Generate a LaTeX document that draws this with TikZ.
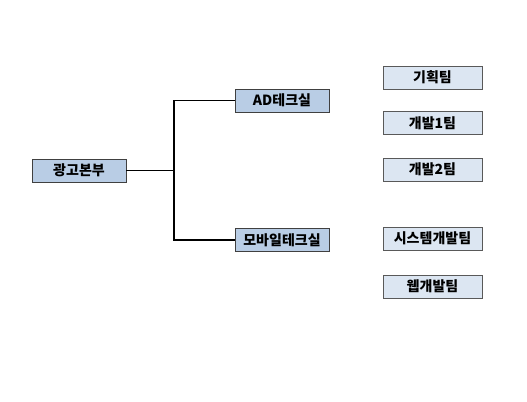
\documentclass[tikz,border=0pt]{standalone}
\usepackage{fontspec}
\setmainfont{Noto Sans CJK KR}
\usetikzlibrary{positioning}
\definecolor{deptblue}{HTML}{B9CDE5}
\definecolor{teamblue}{HTML}{DCE6F2}
\tikzstyle{dept} = [rectangle, draw=black!75, fill=deptblue, minimum width=70.5pt, minimum height=17.5pt, inner sep=0pt, font=\bfseries\fontsize{10.5}{12}\selectfont]
\tikzstyle{team} = [rectangle, draw=black!65, fill=teamblue, minimum width=74pt, minimum height=17pt, inner sep=0pt, font=\bfseries\fontsize{10.5}{12}\selectfont]

\begin{document}
\begin{tikzpicture}[x=0.75pt, y=-0.75pt]
\useasboundingbox (0,0) rectangle (527,402);
\node [dept] (HQ) at (79, 170.5) {광고본부};
\node [dept] (AD) at (282, 100.5) {AD테크실};
\node [dept] (MOB) at (282, 240) {모바일테크실};
\node [team] (PLAN) at (432.5, 77.5) {기획팀};
\node [team] (DEV1) at (432.5, 123) {개발1팀};
\node [team] (DEV2) at (432.5, 169.5) {개발2팀};
\node [team] (SYS) at (432.5, 238.5) {시스템개발팀};
\node [team] (WEB) at (432.5, 286.5) {웹개발팀};
\coordinate (branch) at (174, 170.5);
\draw [line width=1.1pt] (HQ.east) -- (branch);
\draw [line width=1.1pt] (AD.west) -| (branch) |- (MOB.west);
\end{tikzpicture}
\end{document}
